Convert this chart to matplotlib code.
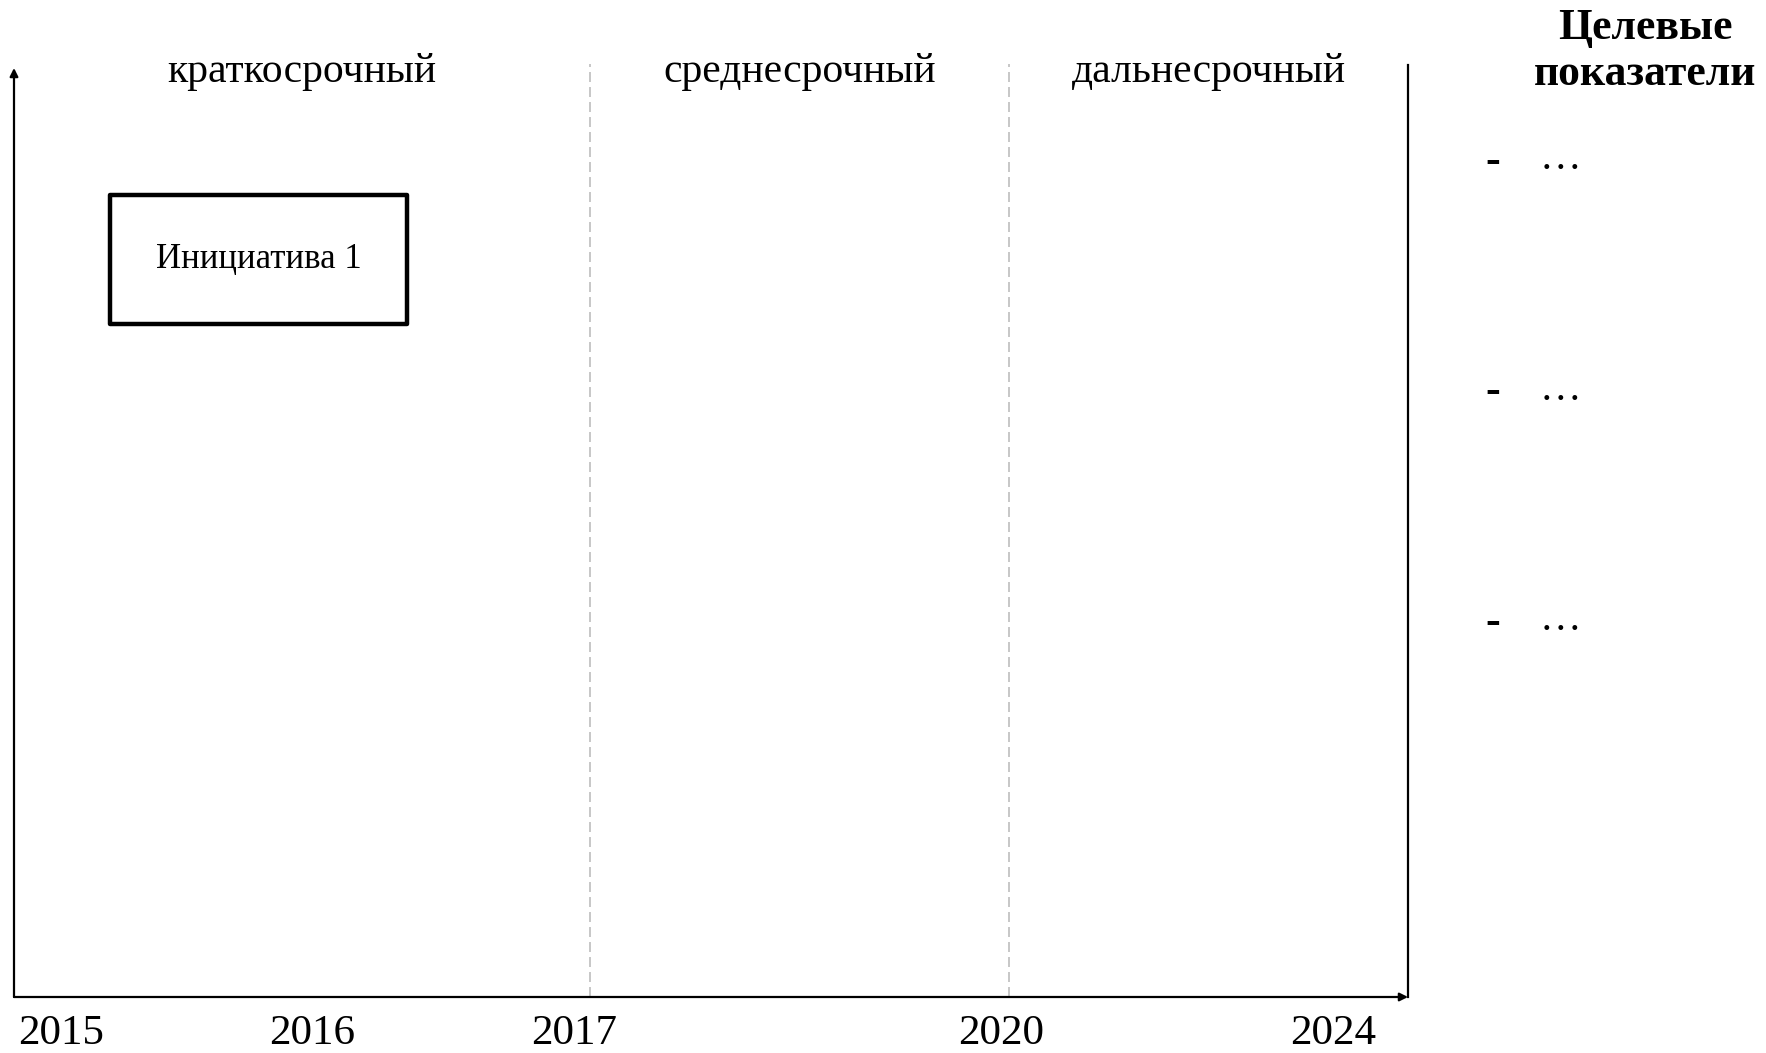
import matplotlib.pyplot as plt
from matplotlib.patches import Rectangle

# timeline units: x 0..100 along the horizontal axis, y 0..100 up the vertical axis
periods = ["краткосрочный", "среднесрочный", "дальнесрочный"]
period_bounds = [0, 41.3, 71.4, 100]
years = ["2015", "2016", "2017", "2020", "2024"]
year_pos = [3.4, 21.4, 40.2, 70.8, 94.6]
initiatives = ["Инициатива 1"]
init_start = [6.9]
init_end = [28.2]
init_top = [86.3]
init_bottom = [72.4]
targets_title = "Целевые\nпоказатели"
targets = ["…", "…", "…"]
target_y = [90.2, 65.4, 40.6]

plt.rcParams['font.family'] = ['Liberation Serif', 'DejaVu Serif']

fig = plt.figure(figsize=(17.66, 10.53), dpi=100)
ax = fig.add_axes([14 / 1766, 56 / 1053, 1394 / 1766, 929 / 1053])
ax.set_xlim(0, 100)
ax.set_ylim(0, 100)
ax.axis('off')

# axes with arrows
ax.annotate("", xy=(0, 100), xytext=(0, 0),
            arrowprops=dict(arrowstyle="-|>", color="black", lw=1.6, mutation_scale=12,
                            shrinkA=0, shrinkB=0))
ax.annotate("", xy=(100, 0), xytext=(0, 0),
            arrowprops=dict(arrowstyle="-|>", color="black", lw=1.6, mutation_scale=12,
                            shrinkA=0, shrinkB=0))
ax.plot([period_bounds[-1]] * 2, [0, 100.3], color="black", lw=1.6, clip_on=False)

# period boundaries
for b in period_bounds[1:-1]:
    ax.plot([b, b], [0, 100.4], color="#bdbdbd", lw=1.2, ls=(0, (6, 3)), clip_on=False)

# period titles
for i, p in enumerate(periods):
    cx = (period_bounds[i] + period_bounds[i + 1]) / 2
    ax.text(cx, 99.6, p, ha="center", va="center", fontsize=30, clip_on=False)

# year labels
for y, x in zip(years, year_pos):
    ax.text(x, -4.0, y, ha="center", va="center", fontsize=31, clip_on=False)

# initiatives
for name, x0, x1, yt, yb in zip(initiatives, init_start, init_end, init_top, init_bottom):
    ax.add_patch(Rectangle((x0, yb), x1 - x0, yt - yb, fill=False, ec="black", lw=3.2,
                           joinstyle="round"))
    ax.text((x0 + x1) / 2, (yt + yb) / 2, name, ha="center", va="center", fontsize=25)

# target indicators
ax.text(117, 101.8, targets_title, ha="center", va="center", fontsize=31.5,
        fontweight="bold", linespacing=1.2, clip_on=False)
for t, y in zip(targets, target_y):
    ax.text(106.1, y - 0.3, "-", ha="center", va="center", fontsize=32, fontweight="bold",
            clip_on=False)
    ax.text(110.9, y, t, ha="center", va="center", fontsize=30, clip_on=False)

fig.savefig("out.png", dpi=100)
